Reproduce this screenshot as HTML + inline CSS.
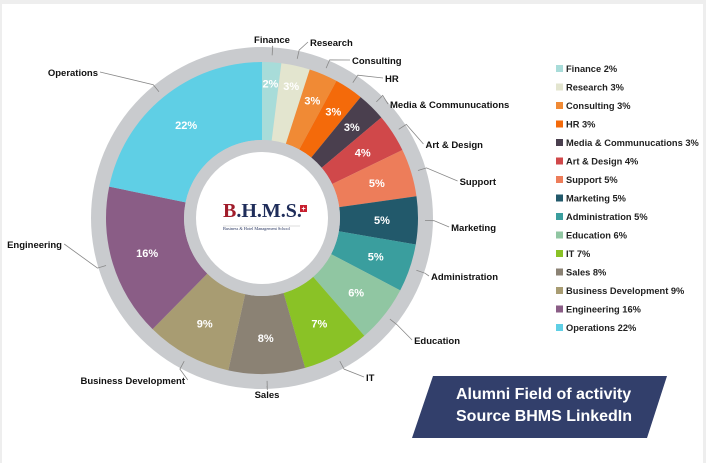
<!DOCTYPE html>
<html><head><meta charset="utf-8">
<style>
html,body{margin:0;padding:0;background:#fff;}
body{width:706px;height:463px;overflow:hidden;position:relative;font-family:"Liberation Sans",sans-serif;}
svg text{font-family:"Liberation Sans",sans-serif;}
</style></head>
<body>
<svg id="chart" width="706" height="463" viewBox="0 0 706 463" xmlns="http://www.w3.org/2000/svg">
<rect x="0" y="0" width="706" height="463" fill="#ffffff"/>
<rect x="0" y="0" width="706" height="4" fill="#eeeeee"/>
<rect x="0" y="0" width="2" height="463" fill="#eeeeee"/>
<rect x="703" y="0" width="3" height="463" fill="#eeeeee"/>
<circle cx="262" cy="218" r="171" fill="#c9cbce"/>
<g id="slices"></g>
<g id="leaders"></g>
<circle cx="262" cy="218" r="78" fill="#c9cbce"/>
<circle cx="262" cy="218" r="66" fill="#ffffff"/>
<g>
<text x="223" y="217" font-size="20" font-weight="bold" fill="#1f2d5a" style="font-family:'Liberation Serif',serif"><tspan fill="#a01b2a">B</tspan>.H.M.S.</text>
<rect x="300" y="205" width="7" height="7" fill="#c8202f"/>
<text x="303.5" y="211" font-size="7" fill="#fff" text-anchor="middle" font-weight="bold">+</text>
<line x1="223" y1="226" x2="300" y2="226" stroke="#bbb" stroke-width="0.5"/>
<text x="223" y="230" font-size="4.3" fill="#1f2d5a" style="font-family:'Liberation Serif',serif">Business &amp; Hotel Management School</text>
</g>
<g id="legend"></g>
<g>
<polygon points="433,376 667,376 647,438 412,438" fill="#323f6b"/>
<text x="456" y="399" font-size="16" font-weight="bold" fill="#fff">Alumni Field of activity</text>
<text x="456" y="421" font-size="16" font-weight="bold" fill="#fff">Source BHMS LinkedIn</text>
</g>
</svg>
<script>
const categories=["Finance","Research","Consulting","HR","Media & Communucations","Art & Design","Support","Marketing","Administration","Education","IT","Sales","Business Development","Engineering","Operations"];
const values=[2,3,3,3,3,4,5,5,5,6,7,8,9,16,22];
const colors=["#a8dcd9","#e3e5cf","#f08a35","#f46a0a","#4a3f4e","#d0484a","#ed7d5a","#22596b","#3a9e9e","#90c6a2","#8ac226","#8b8274","#a89c72","#8a5d86","#5fcfe5"];
const labelPos=[[272,43,"middle"],[310,46,"start"],[352,64,"start"],[385,82,"start"],[390,108,"start"],[483,148,"end"],[496,185,"end"],[496,231,"end"],[498,280,"end"],[460,344,"end"],[366,381,"start"],[267,398,"middle"],[185,384,"end"],[62,248,"end"],[98,76,"end"]];
const NS="http://www.w3.org/2000/svg";
const cx=262,cy=218,R=156,r0=78;
const total=values.reduce((a,b)=>a+b,0);
function ang(v){return v/total*2*Math.PI;}
function pt(a,rad){return [cx+rad*Math.sin(a),cy-rad*Math.cos(a)];}
const gS=document.getElementById('slices'),gL=document.getElementById('leaders'),gLeg=document.getElementById('legend');
let cum=0;
values.forEach((v,i)=>{
 const a0=ang(cum),a1=ang(cum+v);cum+=v;
 const p0=pt(a0,R),p1=pt(a1,R),q1=pt(a1,r0),q0=pt(a0,r0);
 const lg=(a1-a0)>Math.PI?1:0;
 const path=document.createElementNS(NS,'path');
 path.setAttribute('d',`M${p0[0]},${p0[1]}A${R},${R} 0 ${lg} 1 ${p1[0]},${p1[1]}L${q1[0]},${q1[1]}A${r0},${r0} 0 ${lg} 0 ${q0[0]},${q0[1]}Z`);
 path.setAttribute('fill',colors[i]);
 
 
 gS.appendChild(path);
 const am=(a0+a1)/2;
 const lr=(v>=10)?120:(v<=3&&i<5?(i<2?135:128):120);
 const lp=pt(am,lr);
 const t=document.createElementNS(NS,'text');
 t.setAttribute('x',lp[0]);t.setAttribute('y',lp[1]+4);
 t.setAttribute('text-anchor','middle');t.setAttribute('font-size','11');t.setAttribute('font-weight','bold');
 t.setAttribute('fill','#ffffff');
 t.textContent=v+'%';
 
 
 gS.appendChild(t);
 const L=labelPos[i];
 const ct=document.createElementNS(NS,'text');
 ct.setAttribute('x',L[0]);ct.setAttribute('y',L[1]);ct.setAttribute('text-anchor',L[2]);
 ct.setAttribute('font-size','9.5');ct.setAttribute('font-weight','bold');ct.setAttribute('fill','#111');
 ct.textContent=categories[i];
 
 
 gL.appendChild(ct);
 const bb=ct.getBBox();
 let ex,ey;
 if(L[2]==='middle'){ex=L[0];ey=L[1]<cy?L[1]+3:L[1]-12;}
 else{const mx=bb.x+bb.width/2;ex=mx>cx?bb.x-2:bb.x+bb.width+2;ey=L[1]-4;}
 const s=pt(am,163),e=pt(am,172);
 const ln=document.createElementNS(NS,'polyline');
 ln.setAttribute('points',`${s[0]},${s[1]} ${e[0]},${e[1]} ${ex},${ey}`);
 ln.setAttribute('fill','none');ln.setAttribute('stroke','#888');ln.setAttribute('stroke-width','0.8');
 
 
 gL.appendChild(ln);
 const ly=72+i*18.5;
 const sw=document.createElementNS(NS,'rect');
 sw.setAttribute('x',556);sw.setAttribute('y',ly-7);sw.setAttribute('width',7);sw.setAttribute('height',7);sw.setAttribute('fill',colors[i]);
 
 
 gLeg.appendChild(sw);
 const lt=document.createElementNS(NS,'text');
 lt.setAttribute('x',566);lt.setAttribute('y',ly);lt.setAttribute('font-size','9.3');lt.setAttribute('font-weight','bold');lt.setAttribute('fill','#222');
 lt.textContent=categories[i]+' '+v+'%';
 
 
 gLeg.appendChild(lt);
});
</script>
</body></html>
